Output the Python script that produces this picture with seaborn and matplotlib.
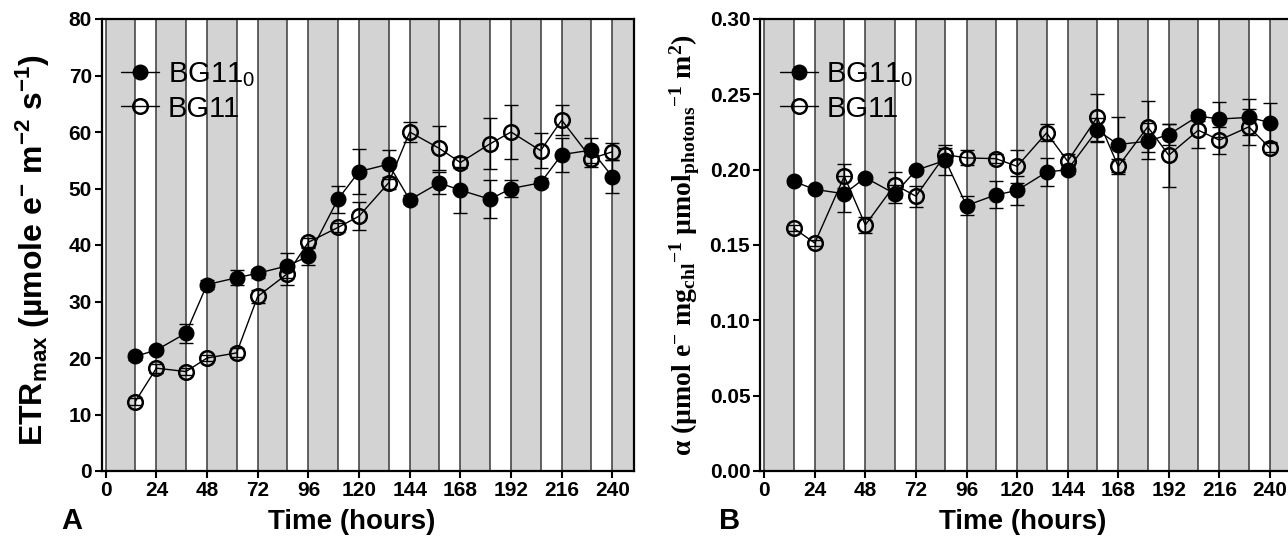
import numpy as np
import pandas as pd
import matplotlib
matplotlib.use("Agg")
import matplotlib.pyplot as plt
from matplotlib.lines import Line2D
import seaborn as sns

# ---------------- data ----------------
time_h = [14, 24, 38, 48, 62, 72, 86, 96, 110, 120, 134, 144, 158, 168, 182, 192, 206, 216, 230, 240]

etr_bg110 = [20.3, 21.4, 24.4, 33.0, 34.2, 35.0, 36.3, 38.0, 48.1, 53.0, 54.3, 48.0, 51.0, 49.7, 48.1, 50.0, 51.0, 56.0, 56.8, 52.1]
etr_bg110_err = [0.6, 0.6, 1.7, 0.8, 1.3, 0.8, 2.2, 1.5, 2.4, 4.0, 2.6, 0.8, 2.0, 4.1, 3.4, 1.5, 0.8, 3.0, 2.2, 2.9]
etr_bg11 = [12.3, 18.2, 17.6, 20.0, 20.9, 30.9, 34.9, 40.5, 43.1, 45.1, 51.0, 60.0, 57.1, 54.6, 57.9, 60.0, 56.7, 62.1, 55.3, 56.5]
etr_bg11_err = [0.6, 0.8, 0.6, 0.6, 0.8, 1.2, 1.9, 0.8, 0.8, 2.5, 1.0, 1.8, 3.9, 1.0, 4.5, 4.7, 3.1, 2.6, 1.5, 1.5]

alpha_bg110 = [0.1922, 0.1869, 0.1840, 0.1947, 0.1840, 0.1996, 0.2062, 0.1762, 0.1833, 0.1862, 0.1984, 0.2000, 0.2262, 0.2167, 0.2189, 0.2233, 0.2356, 0.2336, 0.2347, 0.2313]
alpha_bg110_err = [0.002, 0.002, 0.012, 0.002, 0.006, 0.002, 0.010, 0.006, 0.009, 0.0097, 0.0095, 0.003, 0.008, 0.018, 0.012, 0.007, 0.003, 0.0116, 0.012, 0.0127]
alpha_bg11 = [0.1611, 0.1513, 0.1956, 0.1633, 0.1900, 0.1824, 0.2100, 0.2078, 0.2073, 0.2022, 0.2244, 0.2056, 0.2347, 0.2022, 0.2284, 0.2096, 0.2262, 0.2196, 0.2284, 0.2144]
alpha_bg11_err = [0.002, 0.002, 0.008, 0.0055, 0.0085, 0.007, 0.0045, 0.005, 0.003, 0.011, 0.0056, 0.005, 0.0156, 0.005, 0.017, 0.021, 0.012, 0.009, 0.012, 0.003]

dark_periods = [(0, 14), (24, 38), (48, 62), (72, 86), (96, 110), (120, 134),
                (144, 158), (168, 182), (192, 206), (216, 230), (240, 254)]
x_ticks = [0, 24, 48, 72, 96, 120, 144, 168, 192, 216, 240]
series_labels = ["BG11$_\\mathregular{0}$", "BG11"]

# ---------------- style ----------------
sns.set_theme(style="white")
plt.rcParams['font.family'] = ['Liberation Sans', 'DejaVu Sans']
plt.rcParams['mathtext.default'] = 'regular'
plt.rcParams['text.color'] = 'black'
plt.rcParams['axes.labelcolor'] = 'black'
plt.rcParams['xtick.color'] = 'black'
plt.rcParams['ytick.color'] = 'black'

fig = plt.figure(figsize=(12.88, 5.4), dpi=100)
H = 540.0
W = 1288.0
axA = fig.add_axes([101.5 / W, 69 / H, 532 / W, 452 / H])
axB = fig.add_axes([760.0 / W, 69 / H, 531 / W, 452 / H])

BAND = "#d3d3d3"
VLINE = "#3a3a3a"
MS = 10.5


def draw_panel(ax, y1, e1, y2, e2, ylim, yticks, yfmt, label_x):
    for a, b in dark_periods:
        ax.axvspan(a, b, color=BAND, lw=0, zorder=0)
    for a, b in dark_periods:
        ax.axvline(a, color=VLINE, lw=1.1, zorder=1)
        ax.axvline(b, color=VLINE, lw=1.1, zorder=1)
    df = pd.DataFrame({"t": time_h, "y1": y1, "y2": y2})
    ax.errorbar(time_h, y1, yerr=e1, fmt='none', ecolor='black', elinewidth=1.0,
                capsize=5, capthick=1.0, zorder=3)
    ax.errorbar(time_h, y2, yerr=e2, fmt='none', ecolor='black', elinewidth=1.0,
                capsize=5, capthick=1.0, zorder=3)
    sns.lineplot(data=df, x="t", y="y2", ax=ax, color='black', lw=1.0,
                 marker='o', markersize=MS, markerfacecolor='none',
                 markeredgecolor='black', markeredgewidth=1.8, zorder=4)
    sns.lineplot(data=df, x="t", y="y1", ax=ax, color='black', lw=1.0,
                 marker='o', markersize=MS, markerfacecolor='black',
                 markeredgecolor='black', markeredgewidth=1.0, zorder=5)
    ax.set_xlim(-2, 250)
    ax.set_ylim(*ylim)
    ax.set_xticks(x_ticks)
    ax.set_yticks(yticks)
    ax.set_yticklabels([yfmt.format(v) for v in yticks])
    ax.tick_params(axis='both', which='major', direction='out', length=5, width=1.5,
                   color='black', labelcolor='black', labelsize=15, pad=2,
                   bottom=True, left=True)
    for lab in ax.get_xticklabels() + ax.get_yticklabels():
        lab.set_fontweight('bold')
    for s in ax.spines.values():
        s.set_color('black')
        s.set_linewidth(1.6)
    ax.set_xlabel("Time (hours)", fontsize=20, fontweight='bold', labelpad=6)
    ax.xaxis.set_label_coords(label_x, -0.085)
    handles = [
        Line2D([0], [0], color='black', lw=1.0, marker='o', markersize=MS,
               markerfacecolor='black', markeredgecolor='black'),
        Line2D([0], [0], color='black', lw=1.0, marker='o', markersize=MS,
               markerfacecolor='none', markeredgecolor='black', markeredgewidth=1.8),
    ]
    leg = ax.legend(handles, series_labels, loc='upper left', bbox_to_anchor=(0.015, 0.935),
                    frameon=False, fontsize=21, handlelength=1.3, handletextpad=0.3,
                    labelspacing=0.2, borderaxespad=0)
    for t in leg.get_texts():
        t.set_color('black')


draw_panel(axA, etr_bg110, etr_bg110_err, etr_bg11, etr_bg11_err,
           (0, 80), [0, 10, 20, 30, 40, 50, 60, 70, 80], "{:.0f}", 0.47)
draw_panel(axB, alpha_bg110, alpha_bg110_err, alpha_bg11, alpha_bg11_err,
           (0, 0.30), [0.0, 0.05, 0.10, 0.15, 0.20, 0.25, 0.30], "{:.2f}", 0.495)
axB.spines['right'].set_visible(False)

axA.set_ylabel("ETR$_\\mathregular{max}$ (µmole e$^\\mathregular{-}$ m$^\\mathregular{-2}$ s$^\\mathregular{-1}$)",
               fontsize=23, fontweight='bold')
axA.yaxis.set_label_coords(-0.093, 0.49)
axB.set_ylabel("α (µmol e$^\\mathregular{-}$ mg$_\\mathregular{chl}$$^\\mathregular{-1}$ µmol$_\\mathregular{photons}$$^\\mathregular{-1}$ m$^\\mathregular{2}$)",
               fontsize=20, fontweight='bold', family=['Liberation Serif', 'DejaVu Serif'])
axB.yaxis.set_label_coords(-0.11, 0.5)

fig.text(72 / W, 1 - 521 / H, "A", fontsize=21, fontweight='bold', ha='center', va='center')
fig.text(730 / W, 1 - 521 / H, "B", fontsize=21, fontweight='bold', ha='center', va='center')

fig.savefig("out.png", dpi=100)
